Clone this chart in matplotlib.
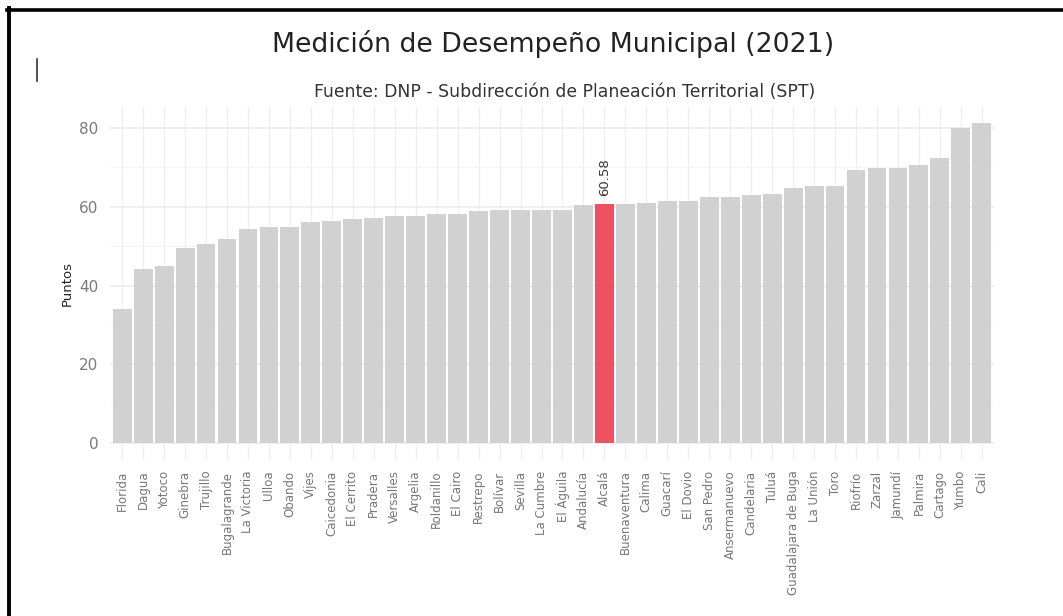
import matplotlib
matplotlib.use("Agg")
import matplotlib.pyplot as plt
from matplotlib.lines import Line2D

municipios = ["Florida", "Dagua", "Yotoco", "Ginebra", "Trujillo", "Bugalagrande",
              "La Victoria", "Ulloa", "Obando", "Vijes", "Caicedonia", "El Cerrito",
              "Pradera", "Versalles", "Argelia", "Roldanillo", "El Cairo", "Restrepo",
              "Bolívar", "Sevilla", "La Cumbre", "El Águila", "Andalucía", "Alcalá",
              "Buenaventura", "Calima", "Guacarí", "El Dovio", "San Pedro", "Ansermanuevo",
              "Candelaria", "Tuluá", "Guadalajara de Buga", "La Unión", "Toro", "Riofrío",
              "Zarzal", "Jamundí", "Palmira", "Cartago", "Yumbo", "Cali"]
puntos = [34.0, 44.1, 44.9, 49.5, 50.5, 51.8, 54.3, 54.7, 54.7, 56.2, 56.4, 56.8,
          57.0, 57.6, 57.6, 58.0, 58.0, 58.8, 59.2, 59.2, 59.2, 59.2, 60.4, 60.58,
          60.7, 61.0, 61.3, 61.3, 62.4, 62.5, 62.8, 63.1, 64.7, 65.1, 65.1, 69.3,
          69.8, 69.8, 70.4, 72.2, 80.0, 81.2]
destacado = "Alcalá"
y_ticks = [0, 20, 40, 60, 80]
y_minor = [10, 30, 50, 70]

W, H = 1063, 616
fig = plt.figure(figsize=(W / 100, H / 100), dpi=100)
fig.patch.set_facecolor("white")

ax = fig.add_axes([109.6 / W, 1 - 459.5 / H, (994.4 - 109.6) / W, (459.5 - 106.8) / H])
ax.set_facecolor("white")

x = list(range(len(municipios)))
colors = ["#EE5261" if m == destacado else "#D1D1D1" for m in municipios]
ax.bar(x, puntos, width=0.9, color=colors, zorder=2)

n = len(municipios)
ax.set_xlim(-0.6, n - 1 + 0.6)
ymax = max(puntos)
ax.set_ylim(-0.05 * ymax, ymax * 1.05)

ax.set_xticks(x)
ax.set_xticklabels(municipios, rotation=90, fontsize=8.5, color="#777777",
                   ha="center", va="top")
ax.set_yticks(y_ticks)
ax.set_yticklabels([str(v) for v in y_ticks], fontsize=11, color="#7a7a7a")
ax.set_yticks(y_minor, minor=True)
ax.tick_params(axis="both", which="both", length=0)
ax.tick_params(axis="x", pad=8)
ax.tick_params(axis="y", pad=8)

ax.grid(True, which="major", axis="y", color="#ebebeb", linewidth=1.1, zorder=0)
ax.grid(True, which="major", axis="x", color="#efefef", linewidth=0.9, zorder=0)
ax.grid(True, which="minor", axis="y", color="#f4f4f4", linewidth=0.8, zorder=0)
ax.set_axisbelow(True)
for s in ax.spines.values():
    s.set_visible(False)

ax.set_ylabel("Puntos", fontsize=9.5, color="#222222", labelpad=4)

i = municipios.index(destacado)
ax.annotate(f"{puntos[i]:.2f}", xy=(i, puntos[i]), xytext=(0, 6),
            textcoords="offset points", rotation=90, ha="center", va="bottom",
            fontsize=9.5, color="#333333")

fig.text(553 / W, 1 - 44 / H, "Medición de Desempeño Municipal (2021)",
         ha="center", va="center", fontsize=19.3, color="#222222")
fig.text(565 / W, 1 - 92 / H, "Fuente: DNP - Subdirección de Planeación Territorial (SPT)",
         ha="center", va="center", fontsize=12.4, color="#333333")

# frame lines of the screenshot
fig.add_artist(Line2D([7 / W, 1.0], [1 - 9.5 / H, 1 - 9.5 / H], color="black",
                      linewidth=2.6, transform=fig.transFigure))
fig.add_artist(Line2D([9 / W, 9 / W], [1 - 8 / H, 0.0], color="black",
                      linewidth=2.8, transform=fig.transFigure))
fig.add_artist(Line2D([36.5 / W, 36.5 / W], [1 - 59 / H, 1 - 81 / H], color="#333333",
                      linewidth=1.2, transform=fig.transFigure))

fig.savefig("out.png", dpi=100, facecolor="white")
